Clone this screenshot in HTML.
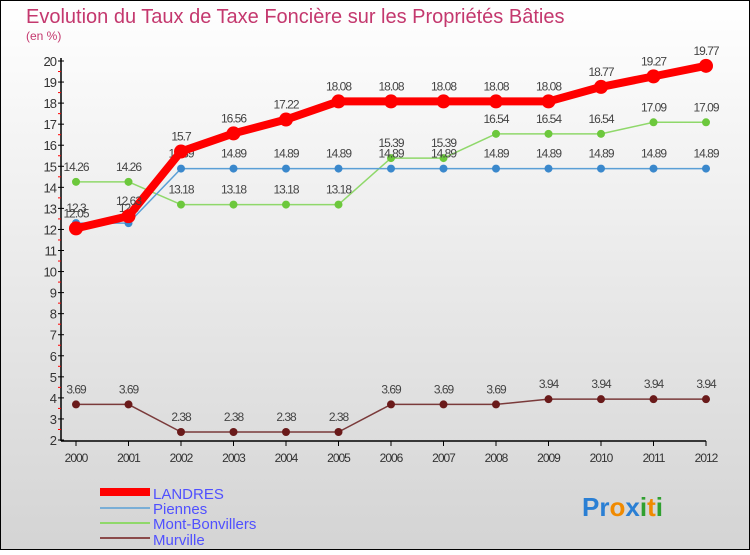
<!DOCTYPE html>
<html><head><meta charset="utf-8"><style>
html,body{margin:0;padding:0}
body{width:750px;height:550px;overflow:hidden;font-family:"Liberation Sans",sans-serif}
</style></head><body>
<svg id="c" width="750" height="550" xmlns="http://www.w3.org/2000/svg">
<defs><linearGradient id="bg" x1="0" y1="0" x2="0" y2="1"><stop offset="0" stop-color="#ffffff"/><stop offset="1" stop-color="#d4d4d4"/></linearGradient></defs>
<rect x="0.5" y="0.5" width="749" height="549" fill="url(#bg)" stroke="#000"/>
<text x="26" y="23" font-size="20" fill="#c4386e">Evolution du Taux de Taxe Foncière sur les Propriétés Bâties</text>
<text x="26" y="40" font-size="12" fill="#c4386e">(en %)</text>
<g id="axes"></g><g id="series"></g>
<g>
<rect x="100" y="488" width="50" height="8" fill="#f00"/>
<text x="153" y="499" font-size="15" fill="#5050ff">LANDRES</text>
<rect x="100" y="507" width="50" height="2" fill="#7aaed6"/>
<text x="153" y="514" font-size="15" fill="#5050ff">Piennes</text>
<rect x="100" y="522" width="50" height="2" fill="#8fd86a"/>
<text x="153" y="529" font-size="15" fill="#5050ff">Mont-Bonvillers</text>
<rect x="100" y="537" width="50" height="2" fill="#8a4a4a"/>
<text x="153" y="545" font-size="15" fill="#5050ff">Murville</text>
</g>
<text x="582" y="516" font-size="26" font-weight="bold"><tspan fill="#2a7fd4">Pr</tspan><tspan fill="#f08a00">o</tspan><tspan fill="#2a7fd4">x</tspan><tspan fill="#30a030">i</tspan><tspan fill="#f08a00">t</tspan><tspan fill="#30a030">i</tspan></text>
</svg>
<script>
const years=[2000,2001,2002,2003,2004,2005,2006,2007,2008,2009,2010,2011,2012];
const landres=[12.05,12.63,15.7,16.56,17.22,18.08,18.08,18.08,18.08,18.08,18.77,19.27,19.77];
const piennes=[12.3,12.3,14.89,14.89,14.89,14.89,14.89,14.89,14.89,14.89,14.89,14.89,14.89];
const montBonvillers=[14.26,14.26,13.18,13.18,13.18,13.18,15.39,15.39,16.54,16.54,16.54,17.09,17.09];
const murville=[3.69,3.69,2.38,2.38,2.38,2.38,3.69,3.69,3.69,3.94,3.94,3.94,3.94];
const yTicks=[2,3,4,5,6,7,8,9,10,11,12,13,14,15,16,17,18,19,20];
const NS='http://www.w3.org/2000/svg';
const x=i=>76+i*52.5;
const y=v=>440-(v-2)*(379/18);
function mk(t,a,p){const e=document.createElementNS(NS,t);for(const k in a)e.setAttribute(k,a[k]);p.appendChild(e);return e;}
const ax=document.getElementById('axes');
let e=mk('line',{x1:61,y1:58,x2:61,y2:441,stroke:'#000','stroke-width':1.5},ax);


e=mk('line',{x1:61,y1:441,x2:706,y2:441,stroke:'#000','stroke-width':1.5},ax);


yTicks.forEach(v=>{
  mk('line',{x1:58,y1:y(v),x2:64,y2:y(v),stroke:'#000'},ax);
  if(v<20)mk('line',{x1:58,y1:y(v+0.5),x2:61,y2:y(v+0.5),stroke:'#f00'},ax);
  const t=mk('text',{x:56,y:y(v)+5,'font-size':13,fill:'#333','text-anchor':'end','letter-spacing':'-1'},ax);
  
  
  t.textContent=v;
});
years.forEach((yr,i)=>{
  mk('line',{x1:x(i),y1:441,x2:x(i),y2:446,stroke:'#000'},ax);
  const t=mk('text',{x:x(i),y:462,'font-size':12,fill:'#333','text-anchor':'middle','letter-spacing':'-1'},ax);
  
  
  t.textContent=yr;
});
const sg=document.getElementById('series');
function series(vals,name,color,w,r,dotColor){
  const g=mk('g',{},sg);
  
  
  const p=mk('polyline',{points:vals.map((v,i)=>x(i)+','+y(v)).join(' '),fill:'none',stroke:color,'stroke-width':w,'stroke-linejoin':'round'},g);
  
  
  vals.forEach((v,i)=>{
    const c=mk('circle',{cx:x(i),cy:y(v),r:r,fill:dotColor},g);
    
    
    const t=mk('text',{x:x(i),y:y(v)-11,'font-size':12,fill:'#444','text-anchor':'middle','letter-spacing':'-1'},g);
    
    
    t.textContent=v;
  });
}
series(murville,'murville','#7a3a3a',1.5,4,'#6a1a1a');
series(montBonvillers,'mont-bonvillers','#8fd86a',1.5,4,'#6cc83c');
series(piennes,'piennes','#5a9fd6',1.5,4,'#3a88cc');
series(landres,'landres','#f00',8,7,'#f00');
</script>
</body></html>
